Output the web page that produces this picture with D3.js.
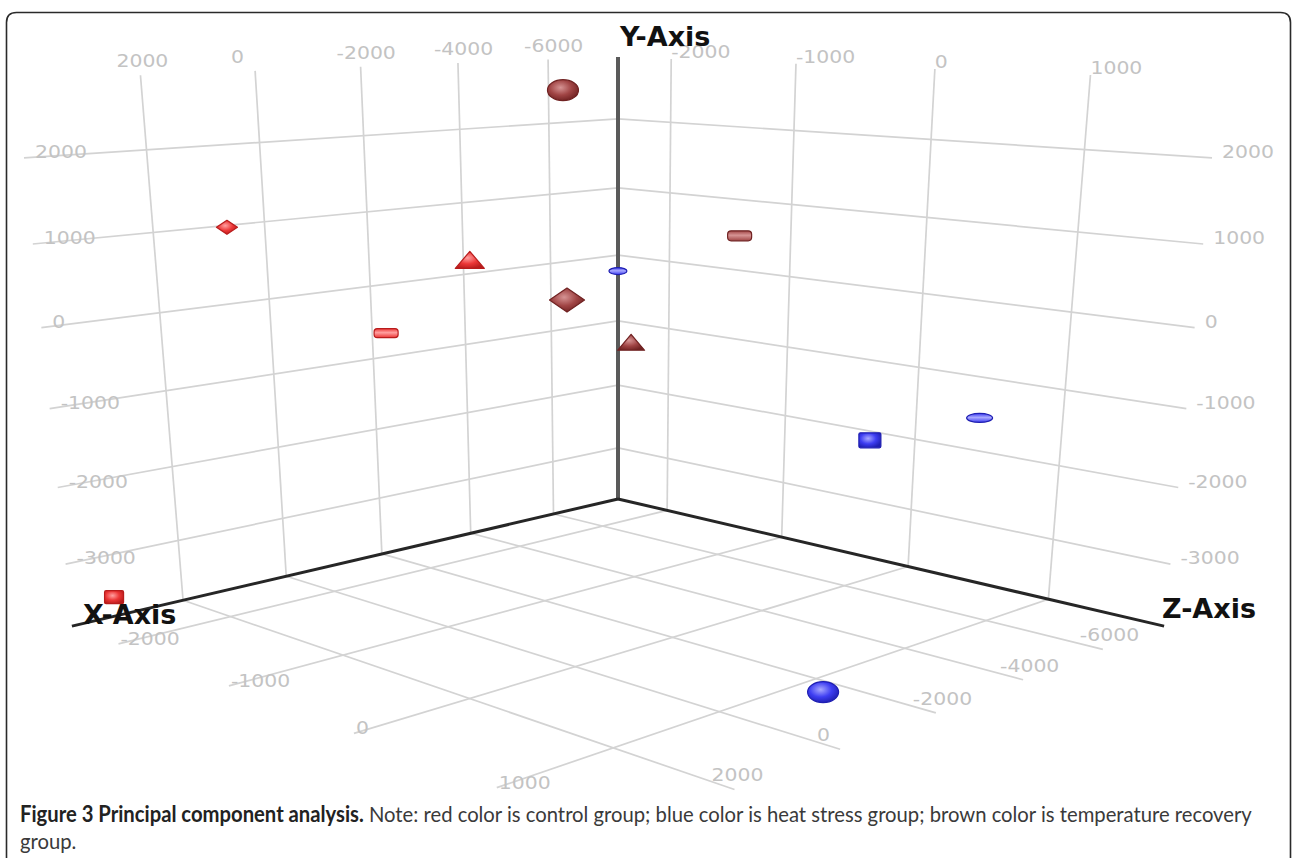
<!DOCTYPE html>
<html>
<head>
<meta charset="utf-8">
<script src="https://cdn.jsdelivr.net/npm/d3@7"></script>
<style>
  html, body { margin: 0; padding: 0; background: #ffffff; }
  svg { display: block; }
</style>
</head>
<body>
<svg id="chart" width="1292" height="858"></svg>
<script>
// ---- PCA scores of the twelve samples ----
const sampleIds = ["C1", "C2", "C3", "C4", "H1", "H2", "H3", "H4", "R1", "R2", "R3", "R4"];
const groups = ["control", "control", "control", "control",
                "heat", "heat", "heat", "heat",
                "recovery", "recovery", "recovery", "recovery"];
const pc1 = [1580, -1105, 960, 3490, -6800, -5500, -6200, -720, -4600, -5000, -3855, -6500];   // X-Axis
const pc2 = [1120, 690, 30, -3450, -105, -1640, -1250, -3500, 2560, 840, -120, -1070];         // Y-Axis
const pc3 = [-2000, -1200, -1000, -2300, -2150, 280, 820, 1425, -1800, -550, -1500, -1925];    // Z-Axis

// ---- axis extents and tick values ----
const xDomain = [-7660, 3990];
const yDomain = [-3830, 2880];
const zDomain = [-2460, 1750];
const xTicks = [-6000, -4000, -2000, 0, 2000];
const yTicks = [-3000, -2000, -1000, 0, 1000, 2000];
const zTicks = [-2000, -1000, 0, 1000];

// ---- marker appearance ----
const groupColors = {
  control:  { light: "#ffa0a0", base: "#ec3636", dark: "#b81c1c" },
  heat:     { light: "#a8a8ff", base: "#3e3ef2", dark: "#1f1fb2" },
  recovery: { light: "#d69494", base: "#a04444", dark: "#702222" }
};
const markerStyle = {
  C1: { shape: "diamond", w: 21, h: 14 },
  C2: { shape: "cone",    w: 29, h: 17 },
  C3: { shape: "slab",    w: 24, h: 9 },
  C4: { shape: "box",     w: 19, h: 13 },
  H1: { shape: "disc",    w: 18, h: 7 },
  H2: { shape: "box",     w: 22, h: 15 },
  H3: { shape: "disc",    w: 26, h: 9 },
  H4: { shape: "sphere",  w: 31, h: 21 },
  R1: { shape: "sphere",  w: 31, h: 21 },
  R2: { shape: "slab",    w: 24, h: 10 },
  R3: { shape: "diamond", w: 35, h: 24 },
  R4: { shape: "cone",    w: 27, h: 16 }
};

const svg = d3.select("#chart");

// ---- 3D scene: box in world units, viewed by a pinhole camera ----
const side = 3.005, tall = 2.003;
const sx = d3.scaleLinear().domain(xDomain).range([0, side]);
const sy = d3.scaleLinear().domain(yDomain).range([0, tall]);
const sz = d3.scaleLinear().domain(zDomain).range([0, side]);

const camera = { distance: 10, height: 2.364, pitch: 22.3 * Math.PI / 180,
                 focal: 2103, cx: 618, cy: 832 };
const D2 = camera.distance / Math.SQRT2;
const cosP = Math.cos(camera.pitch), sinP = Math.sin(camera.pitch);

function toScreen(a, h, b) {
  const da = a - D2, dh = h - camera.height, db = b - D2;
  const fwd = -(da + db) / Math.SQRT2;
  const rt = (db - da) / Math.SQRT2;
  const depth = fwd * cosP - dh * sinP;
  const up = fwd * sinP + dh * cosP;
  return [camera.cx + camera.focal * rt / depth, camera.cy - camera.focal * up / depth, depth];
}
function project(x, y, z) { return toScreen(sx(x), sy(y), sz(z)); }

const [x0, x1] = xDomain, [y0, y1] = yDomain, [z0, z1] = zDomain;
const lineGen = d3.line();

// ---- frame ----
svg.append("path")
  .attr("d", "M6.5,880 L6.5,22.5 Q6.5,12.5 16.5,12.5 L1280.5,12.5 Q1290.5,12.5 1290.5,22.5 L1290.5,880")
  .attr("fill", "none").attr("stroke", "#2a2a2a").attr("stroke-width", 1.6);

// ---- grid lines on the floor and the two walls ----
const gridSegs = [];
xTicks.forEach(x => gridSegs.push([[x, y0, z0], [x, y0, z1]]));   // floor
zTicks.forEach(z => gridSegs.push([[x0, y0, z], [x1, y0, z]]));
xTicks.forEach(x => gridSegs.push([[x, y0, z0], [x, y1, z0]]));   // left wall
yTicks.forEach(y => gridSegs.push([[x0, y, z0], [x1, y, z0]]));
zTicks.forEach(z => gridSegs.push([[x0, y0, z], [x0, y1, z]]));   // right wall
yTicks.forEach(y => gridSegs.push([[x0, y, z0], [x0, y, z1]]));

svg.append("g").attr("class", "grid")
  .selectAll("path").data(gridSegs).join("path")
  .attr("d", s => lineGen(s.map(p => project(...p).slice(0, 2))))
  .attr("fill", "none").attr("stroke", "#d3d3d3").attr("stroke-width", 1.7);

// ---- axes ----
const axes = svg.append("g").attr("class", "axes");
axes.append("path")
  .attr("d", lineGen([project(x0, y0, z0), project(x0, y1, z0)].map(p => p.slice(0, 2))))
  .attr("stroke", "#5a5a5a").attr("stroke-width", 4).attr("fill", "none");
axes.append("path")
  .attr("d", lineGen([project(x0, y0, z0), project(x1, y0, z0)].map(p => p.slice(0, 2))))
  .attr("stroke", "#262626").attr("stroke-width", 3).attr("fill", "none");
axes.append("path")
  .attr("d", lineGen([project(x0, y0, z0), project(x0, y0, z1)].map(p => p.slice(0, 2))))
  .attr("stroke", "#262626").attr("stroke-width", 3).attr("fill", "none");

// ---- tick labels ----
const tickG = svg.append("g").attr("class", "ticks")
  .attr("font-family", "'DejaVu Sans', Verdana, sans-serif")
  .attr("font-size", 17).attr("fill", "#c3c3c3");
function tickLabel(pt, dx, dy, text) {
  tickG.append("text")
    .attr("transform", `translate(${pt[0] + dx},${pt[1] + dy}) scale(1.2,1)`)
    .text(text);
}
xTicks.forEach(x => tickLabel(project(x, y1, z0), -24, -8, x));   // top of left wall
zTicks.forEach(z => tickLabel(project(x0, y1, z), 0, -1, z));     // top of right wall
yTicks.forEach(y => tickLabel(project(x1, y, z0), 11, 0, y));     // left wall edge
yTicks.forEach(y => tickLabel(project(x0, y, z1), 10, 0, y));     // right wall edge
xTicks.forEach(x => tickLabel(project(x, y0, z1), -23, -8, x));   // floor, front-right edge
zTicks.forEach(z => tickLabel(project(x1, y0, z), 2, 1, z));      // floor, front-left edge

// ---- gradients for the markers ----
const defs = svg.append("defs");
Object.entries(groupColors).forEach(([key, c]) => {
  const rg = defs.append("radialGradient").attr("id", `rad-${key}`)
    .attr("cx", "42%").attr("cy", "38%").attr("r", "65%");
  rg.append("stop").attr("offset", "0%").attr("stop-color", c.light);
  rg.append("stop").attr("offset", "55%").attr("stop-color", c.base);
  rg.append("stop").attr("offset", "100%").attr("stop-color", c.dark);
  const lg = defs.append("linearGradient").attr("id", `lin-${key}`)
    .attr("x1", 0).attr("y1", 0).attr("x2", 0).attr("y2", 1);
  lg.append("stop").attr("offset", "0%").attr("stop-color", c.base);
  lg.append("stop").attr("offset", "45%").attr("stop-color", c.light);
  lg.append("stop").attr("offset", "100%").attr("stop-color", c.base);
});

// ---- sample markers, drawn far to near ----
const points = sampleIds.map((id, i) => {
  const [px, py, depth] = project(pc1[i], pc2[i], pc3[i]);
  return { id, group: groups[i], px, py, depth };
}).sort((a, b) => b.depth - a.depth);

const markG = svg.append("g").attr("class", "markers");
points.forEach(p => {
  const st = markerStyle[p.id], c = groupColors[p.group];
  const g = markG.append("g").attr("transform", `translate(${p.px},${p.py})`);
  const w = st.w, h = st.h;
  let el;
  if (st.shape === "sphere" || st.shape === "disc") {
    el = g.append("ellipse").attr("rx", w / 2).attr("ry", h / 2)
      .attr("fill", st.shape === "sphere" ? `url(#rad-${p.group})` : `url(#lin-${p.group})`);
  } else if (st.shape === "box" || st.shape === "slab") {
    el = g.append("rect").attr("x", -w / 2).attr("y", -h / 2).attr("width", w).attr("height", h)
      .attr("rx", st.shape === "slab" ? h * 0.35 : 1.5)
      .attr("fill", st.shape === "slab" ? `url(#lin-${p.group})` : `url(#rad-${p.group})`);
  } else if (st.shape === "diamond") {
    el = g.append("polygon")
      .attr("points", [[0, -h / 2], [w / 2, 0], [0, h / 2], [-w / 2, 0]].join(" "))
      .attr("fill", `url(#rad-${p.group})`);
  } else {
    el = g.append("polygon")
      .attr("points", [[0, -h / 2], [w / 2, h / 2], [-w / 2, h / 2]].join(" "))
      .attr("fill", `url(#rad-${p.group})`);
  }
  el.attr("stroke", c.dark).attr("stroke-width", 1.2).attr("stroke-linejoin", "round");
});

// ---- axis titles ----
const titleG = svg.append("g")
  .attr("font-family", "'DejaVu Sans', Verdana, sans-serif")
  .attr("font-weight", "bold").attr("font-size", 27).attr("fill", "#111111");
const yTop = project(x0, y1, z0), xEnd = project(x1, y0, z0), zEnd = project(x0, y0, z1);
titleG.append("text").attr("x", yTop[0] + 2).attr("y", yTop[1] - 11).text("Y-Axis");
titleG.append("text").attr("x", xEnd[0] + 11).attr("y", xEnd[1] - 2).text("X-Axis");
titleG.append("text").attr("x", zEnd[0] - 2).attr("y", zEnd[1] - 8).text("Z-Axis");

// ---- figure caption ----
const cap = svg.append("g").attr("font-family", "Lato, 'Open Sans', sans-serif")
  .attr("font-size", 22).attr("fill", "#3a3a3a");
const line1 = cap.append("text").attr("x", 0).attr("y", 0);
line1.append("tspan").attr("font-weight", "bold").attr("fill", "#222222")
  .text("Figure 3 Principal component analysis.");
line1.append("tspan")
  .text(" Note: red color is control group; blue color is heat stress group; brown color is temperature recovery");
cap.append("text").attr("x", 0).attr("y", 27).text("group.");
const naturalWidth = line1.node().getComputedTextLength();
cap.attr("transform", `translate(20,822) scale(${1233 / naturalWidth},1)`);
</script>
</body>
</html>
